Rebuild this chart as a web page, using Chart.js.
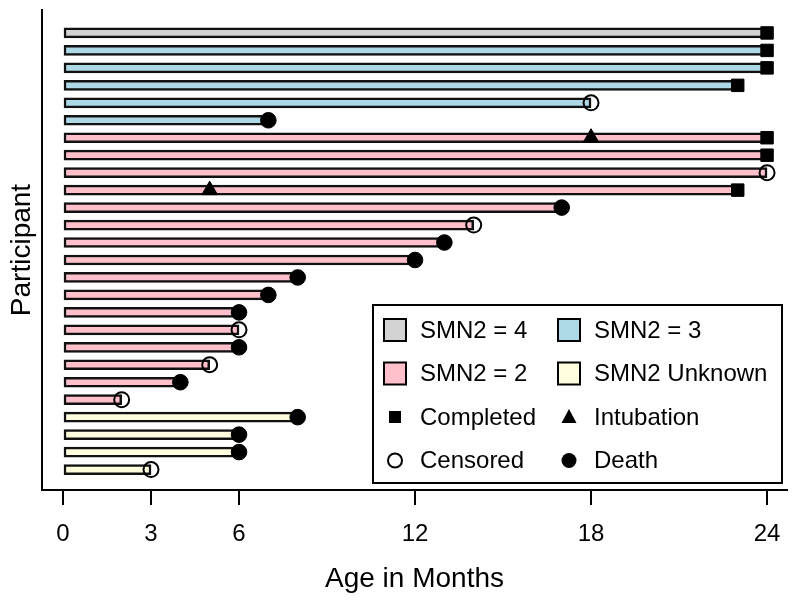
<!DOCTYPE html>
<html>
<head>
<meta charset="utf-8">
<script src="https://cdn.jsdelivr.net/npm/chart.js@4.4.1/dist/chart.umd.min.js"></script>
<style>
  body { margin: 0; background: #fff; }
  #swimmer { display: block; }
</style>
</head>
<body>
<canvas id="swimmer" width="800" height="605"></canvas>
<script>
// one entry per participant, top row first
var participants = [1,2,3,4,5,6,7,8,9,10,11,12,13,14,15,16,17,18,19,20,21,22,23,24,25,26];
var smn2Group = ['4','3','3','3','3','3','2','2','2','2','2','2','2','2','2','2','2','2','2','2','2','2','U','U','U','U'];
var endMonths = [24,24,24,23,18,7,24,24,24,23,17,14,13,12,8,7,6,6,6,5,4,2,8,6,6,3];
var outcomes = ['Completed','Completed','Completed','Completed','Censored','Death',
                'Completed','Completed','Censored','Completed','Death','Censored','Death',
                'Death','Death','Death','Death','Censored','Death','Censored','Death','Censored',
                'Death','Death','Death','Censored'];
var intubationParticipant = [7, 10];
var intubationMonth = [18, 5];
var xTickValues = [0, 3, 6, 12, 18, 24];

var groupNames = {'4': 'SMN2 = 4', '3': 'SMN2 = 3', '2': 'SMN2 = 2', 'U': 'SMN2 Unknown'};
var groupColors = {'4': '#d3d3d3', '3': '#add8e6', '2': '#ffc0cb', 'U': '#ffffe0'};

var fontFamily = '"Liberation Sans", Arial, sans-serif';

var barData = [];
var barColors = [];
for (var i = 0; i < participants.length; i++) {
	barData.push({x: [0, endMonths[i]], y: participants[i]});
	barColors.push(groupColors[smn2Group[i]]);
}

function outcomePoints(name) {
	var pts = [];
	for (var i = 0; i < participants.length; i++) {
		if (outcomes[i] == name) pts.push({x: endMonths[i], y: participants[i]});
	}
	return pts;
}

var intubationPoints = [];
for (var j = 0; j < intubationParticipant.length; j++) {
	intubationPoints.push({x: intubationMonth[j], y: intubationParticipant[j]});
}

// legend box drawn inside the plot, lower right
var boxLegend = {
	id: 'boxLegend',
	afterDraw: function(chart) {
		var ctx = chart.ctx;
		var area = chart.chartArea;
		var right = area.right - 5, bottom = area.bottom - 7;
		var left = right - 409, top = bottom - 178;
		ctx.save();
		ctx.fillStyle = '#fff';
		ctx.fillRect(left, top, right - left, bottom - top);
		ctx.lineWidth = 2;
		ctx.strokeStyle = '#000';
		ctx.strokeRect(left, top, right - left, bottom - top);

		var rows = [25, 68.5, 112, 155.5];
		var cols = [11, 185];
		var items = [
			{kind: 'fill', key: '4'}, {kind: 'fill', key: '3'},
			{kind: 'fill', key: '2'}, {kind: 'fill', key: 'U'},
			{kind: 'square', text: 'Completed'}, {kind: 'triangle', text: 'Intubation'},
			{kind: 'open', text: 'Censored'}, {kind: 'dot', text: 'Death'}
		];
		ctx.font = '24px ' + fontFamily;
		ctx.textBaseline = 'middle';
		ctx.textAlign = 'left';
		for (var k = 0; k < items.length; k++) {
			var it = items[k];
			var cy = top + rows[Math.floor(k / 2)];
			var sx = left + cols[k % 2];
			var cx = sx + 11;
			ctx.fillStyle = '#000';
			ctx.strokeStyle = '#000';
			if (it.kind == 'fill') {
				ctx.fillStyle = groupColors[it.key];
				ctx.fillRect(sx, cy - 11, 22, 22);
				ctx.lineWidth = 2;
				ctx.strokeRect(sx, cy - 11, 22, 22);
			} else if (it.kind == 'square') {
				ctx.fillRect(cx - 6, cy - 6, 12, 12);
			} else if (it.kind == 'triangle') {
				ctx.beginPath();
				ctx.moveTo(cx, cy - 8);
				ctx.lineTo(cx + 7.5, cy + 6);
				ctx.lineTo(cx - 7.5, cy + 6);
				ctx.closePath();
				ctx.fill();
			} else if (it.kind == 'open') {
				ctx.lineWidth = 2;
				ctx.beginPath();
				ctx.arc(cx, cy, 7, 0, Math.PI * 2);
				ctx.stroke();
			} else {
				ctx.beginPath();
				ctx.arc(cx, cy, 7.5, 0, Math.PI * 2);
				ctx.fill();
			}
			ctx.fillStyle = '#000';
			ctx.fillText(it.text || groupNames[it.key], sx + 36, cy + 1);
		}
		ctx.restore();
	}
};

var ctx = document.getElementById('swimmer');
var swimmerChart = new Chart(ctx, {
	type: 'bar',
	data: {
		datasets: [
			{
				type: 'scatter',
				label: 'Completed',
				data: outcomePoints('Completed'),
				pointStyle: 'rect',
				pointRadius: 8.8,
				backgroundColor: '#000',
				borderColor: '#000',
				borderWidth: 1,
				order: 1
			},
			{
				type: 'scatter',
				label: 'Censored',
				data: outcomePoints('Censored'),
				pointStyle: 'circle',
				pointRadius: 7.5,
				backgroundColor: 'rgba(0,0,0,0)',
				borderColor: '#000',
				borderWidth: 2,
				order: 1
			},
			{
				type: 'scatter',
				label: 'Death',
				data: outcomePoints('Death'),
				pointStyle: 'circle',
				pointRadius: 7.8,
				backgroundColor: '#000',
				borderColor: '#000',
				borderWidth: 1,
				order: 1
			},
			{
				type: 'scatter',
				label: 'Intubation',
				data: intubationPoints,
				pointStyle: 'triangle',
				pointRadius: 9,
				backgroundColor: '#000',
				borderColor: '#000',
				borderWidth: 1,
				order: 1
			},
			{
				label: 'Follow-up',
				data: barData,
				backgroundColor: barColors,
				borderColor: '#111',
				borderWidth: 2.5,
				borderSkipped: false,
				barThickness: 10,
				order: 2
			}
		]
	},
	options: {
		indexAxis: 'y',
		responsive: false,
		animation: false,
		layout: {padding: {top: 9, right: 13, left: 0, bottom: 0}},
		plugins: {
			legend: {display: false},
			tooltip: {enabled: false}
		},
		scales: {
			x: {
				type: 'linear',
				position: 'bottom',
				offset: false,
				beginAtZero: false,
				min: -0.716,
				max: 24.68,
				afterFit: function(scale) { scale.height = 115; },
				afterBuildTicks: function(scale) {
					scale.ticks = xTickValues.map(function(v) { return {value: v}; });
				},
				grid: {display: true, offset: false, drawOnChartArea: false, drawTicks: true, tickLength: 15, color: '#000', lineWidth: 2},
				border: {display: true, color: '#000', width: 2},
				ticks: {
					color: '#000',
					padding: 15,
					font: {family: fontFamily, size: 24},
					maxRotation: 0,
					autoSkip: false,
					callback: function(v) { return String(v); }
				},
				title: {
					display: true,
					text: 'Age in Months',
					color: '#000',
					font: {family: fontFamily, size: 28},
					padding: {top: 0, bottom: 9}
				}
			},
			y: {
				type: 'linear',
				reverse: true,
				offset: false,
				min: -0.314,
				max: 27.171,
				afterFit: function(scale) { scale.width = 42; },
				grid: {display: false, offset: false},
				border: {display: true, color: '#000', width: 2},
				ticks: {display: false},
				title: {
					display: true,
					text: 'Participant',
					color: '#000',
					font: {family: fontFamily, size: 28},
					padding: {top: 5, bottom: 0}
				}
			}
		}
	},
	plugins: [boxLegend]
});
</script>
</body>
</html>
